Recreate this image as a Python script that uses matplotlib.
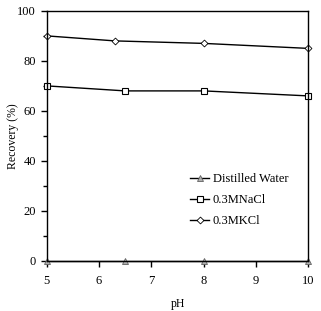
import matplotlib.pyplot as plt
from matplotlib.ticker import MultipleLocator

plt.rcParams['font.family'] = ['Liberation Serif', 'DejaVu Serif']

ph_water = [5, 6.5, 8, 10]
rec_water = [0, 0, 0, 0]
ph_nacl = [5, 6.5, 8, 10]
rec_nacl = [70, 68, 68, 66]
ph_kcl = [5, 6.3, 8, 10]
rec_kcl = [90, 88, 87, 85]

fig = plt.figure(figsize=(3.21, 3.11), dpi=100)
ax = fig.add_axes([0.146, 0.161, 0.814, 0.804])

ax.plot(ph_water, rec_water, color='black', lw=1, marker='^', ms=4,
        mfc='#b0b0b0', mec='#606060', mew=0.6, label='Distilled Water', clip_on=False)
ax.plot(ph_nacl, rec_nacl, color='black', lw=1, marker='s', ms=5,
        mfc='white', mec='black', mew=0.8, label='0.3MNaCl', clip_on=False)
ax.plot(ph_kcl, rec_kcl, color='black', lw=1, marker='D', ms=3.5,
        mfc='white', mec='black', mew=0.6, label='0.3MKCl', clip_on=False)

ax.set_xlim(5, 10)
ax.set_ylim(0, 100)
ax.xaxis.set_major_locator(MultipleLocator(1))
ax.yaxis.set_major_locator(MultipleLocator(20))
ax.yaxis.set_minor_locator(MultipleLocator(10))
ax.tick_params(axis='both', which='major', direction='out', length=4, width=1, labelsize=9, pad=6)
ax.tick_params(axis='y', which='major', pad=4)
ax.tick_params(axis='y', which='minor', direction='out', length=3, width=1)
for s in ax.spines.values():
    s.set_linewidth(1)

ax.set_xlabel('pH', fontsize=8.5, labelpad=8)
fig.text(13 / 321, 0.563, 'Recovery (%)', rotation=90, ha='center', va='center', fontsize=8.5)

ax.legend(loc='upper left', bbox_to_anchor=(0.53, 0.37), frameon=False, fontsize=9,
          handlelength=1.5, handletextpad=0.3, labelspacing=0.7, borderaxespad=0)

fig.savefig('out.png', dpi=100)
